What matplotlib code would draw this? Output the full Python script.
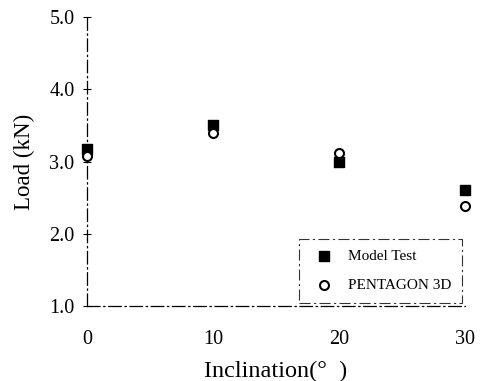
import matplotlib.pyplot as plt

# data
inclination = [0, 10, 20, 30]
model_test = [3.17, 3.50, 3.00, 2.61]
pentagon_3d = [3.07, 3.40, 3.12, 2.39]

plt.rcParams['font.family'] = ['Liberation Serif', 'DejaVu Serif']

fig = plt.figure(figsize=(4.81, 3.81), dpi=100)
ax = fig.add_axes([0.181, 0.197, 0.786, 0.758])

ax.scatter(inclination, model_test, marker='s', s=48, color='black', label='Model Test', clip_on=False, zorder=3)
ax.scatter(inclination, pentagon_3d, marker='o', s=42, facecolor='white', edgecolor='black', linewidth=1.5,
           label='PENTAGON 3D', clip_on=False, zorder=4)

ax.set_xlim(0, 30)
ax.set_ylim(1.0, 5.0)
ax.set_xticks([0, 10, 20, 30])
ax.set_yticks([1.0, 2.0, 3.0, 4.0, 5.0])
ax.set_yticklabels(['1.0', '2.0', '3.0', '4.0', '5.0'])

for s in ['top', 'right']:
    ax.spines[s].set_visible(False)
for s in ['left', 'bottom']:
    ax.spines[s].set_linestyle((0, (10, 3, 1, 3)))
    ax.spines[s].set_linewidth(0.9)

ax.tick_params(axis='y', direction='inout', length=6, width=0.8, labelsize=14.5, pad=6)
ax.tick_params(axis='x', length=0, labelsize=14.5, pad=17)

ax.set_xlabel('Inclination(°  )', fontsize=17.5, labelpad=9)
ax.set_ylabel('Load (kN)', fontsize=16.5, labelpad=10)

leg = ax.legend(loc='lower right', bbox_to_anchor=(0.992, 0.01), borderaxespad=0, fontsize=11, frameon=True,
                fancybox=False, handlelength=1.8, handletextpad=0.7, borderpad=0.7, labelspacing=1.0,
                edgecolor='black')
leg.get_frame().set_linestyle((0, (10, 3, 2, 3)))
leg.get_frame().set_linewidth(0.8)

fig.savefig('out.png', dpi=100)
